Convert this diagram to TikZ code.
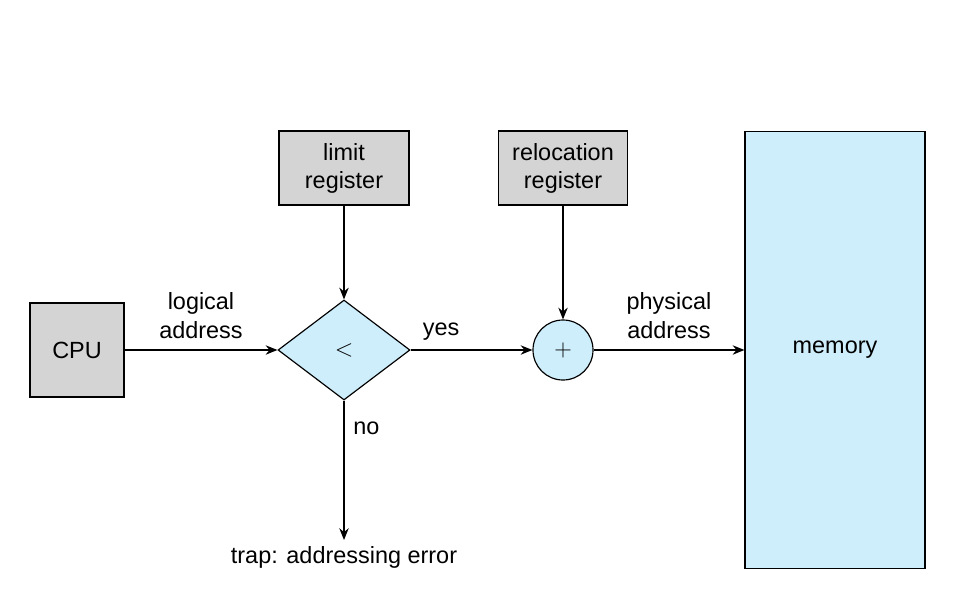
\documentclass[tikz,border=0pt]{standalone}
\usepackage{fontspec}
\setmainfont{Liberation Sans}
\usetikzlibrary{shapes.geometric,arrows.meta}
\definecolor{regGray}{RGB}{212,212,212}
\definecolor{memBlue}{RGB}{206,238,251}
\tikzset{
  box/.style={draw, line width=1pt, fill=regGray, align=center, font=\fontsize{20}{24}\selectfont},
  link/.style={line width=1.4pt, -{Stealth[length=10pt,width=8pt]}},
  lbl/.style={align=center, font=\fontsize{20}{24}\selectfont}
}
\begin{document}
\begin{tikzpicture}[x=0.03cm, y=-0.03cm]
          \useasboundingbox (0,0) rectangle (954,605);

          \node[box, minimum width=2.82cm, minimum height=2.82cm] (cpu) at (77,350) {CPU};
          \node[box, minimum width=3.9cm, minimum height=2.22cm] (limit) at (344,168) {limit\\register};
          \node[box, minimum width=3.87cm, minimum height=2.22cm] (reloc) at (563,168) {relocation\\register};
          \node[box, fill=memBlue, minimum width=5.4cm, minimum height=13.11cm] (memory) at (835,350) {memory};

          \node[diamond, draw, line width=1pt, fill=memBlue, minimum width=3.96cm, minimum height=3cm, inner sep=0pt, font=\fontsize{22}{24}\selectfont] (cmp) at (344,350) {$<$};
          \node[circle, draw, line width=1pt, fill=memBlue, minimum size=1.8cm, inner sep=0pt, font=\fontsize{22}{24}\selectfont] (add) at (563,350) {$+$};
          \coordinate (trap) at (344,540);

          \draw[link] (cpu) -- (cmp) node[lbl, midway, above=6pt] {logical\\address};
          \draw[link] (limit) -- (cmp);
          \draw[link] (cmp) -- (add) node[lbl, pos=0.25, above=4pt] {yes};
          \draw[link] (reloc) -- (add);
          \draw[link] (add) -- (memory) node[lbl, midway, above=6pt] {physical\\address};
          \draw[link] (cmp) -- (trap) node[lbl, pos=0.2, right=4pt] {no};

          \node[lbl, below=2pt] (trapText) at (trap) {trap: addressing error};
        \end{tikzpicture}
\end{document}
